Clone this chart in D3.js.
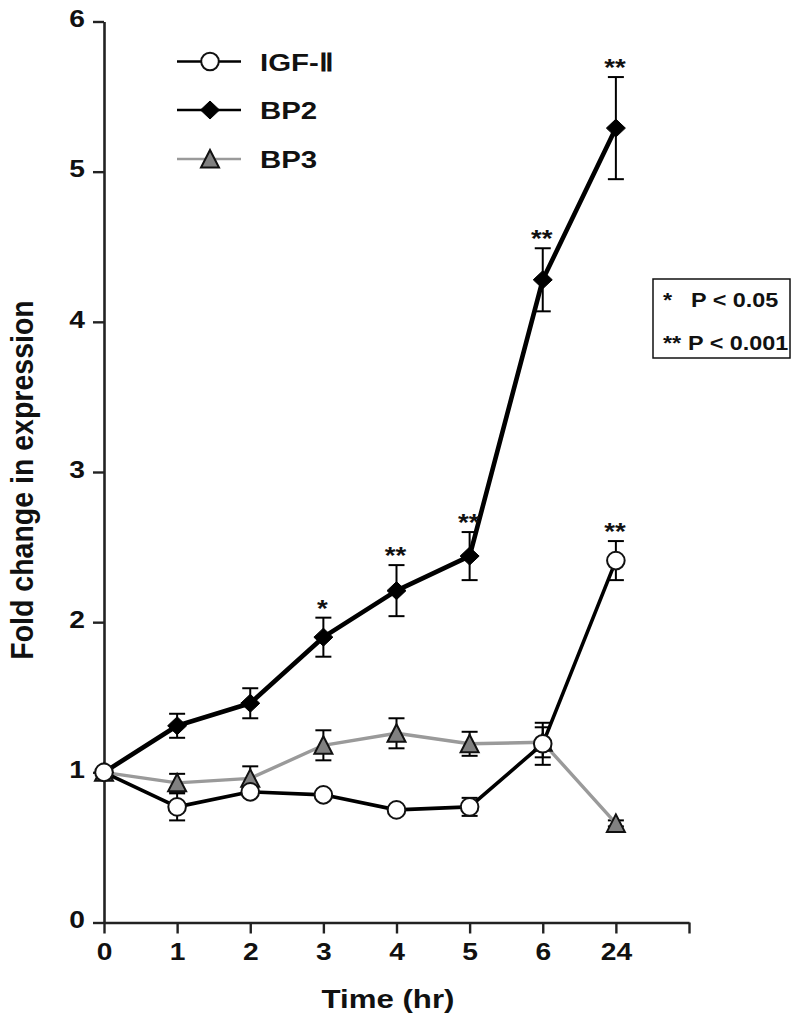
<!DOCTYPE html>
<html>
<head>
<meta charset="utf-8">
<script src="https://cdn.jsdelivr.net/npm/d3@7/dist/d3.min.js"></script>
<style>
  html, body { margin: 0; padding: 0; background: #fff; }
  svg { display: block; }
</style>
</head>
<body>
<svg id="chart" width="800" height="1024"></svg>
<script>
// ---------------- data ----------------
const times = ["0", "1", "2", "3", "4", "5", "6", "24"];
const yTicks = [0, 1, 2, 3, 4, 5, 6];

const igf    = [1.00, 0.77, 0.87, 0.85, 0.75, 0.77, 1.19, 2.41];
const igfErr = [0.00, 0.09, 0.02, 0.02, 0.02, 0.06, 0.14, 0.13];
const igfSig = ["", "", "", "", "", "", "", "**"];

const bp2    = [1.00, 1.31, 1.46, 1.90, 2.21, 2.44, 4.28, 5.29];
const bp2Err = [0.00, 0.08, 0.10, 0.13, 0.17, 0.16, 0.21, 0.34];
const bp2Sig = ["", "", "", "*", "**", "**", "**", "**"];

const bp3    = [1.00, 0.93, 0.96, 1.18, 1.26, 1.19, 1.20, 0.66];
const bp3Err = [0.00, 0.06, 0.08, 0.10, 0.10, 0.08, 0.10, 0.02];

const legendLabels = ["IGF-Ⅱ", "BP2", "BP3"];
const pLabels = [["*", "P < 0.05"], ["**", "P < 0.001"]];
const yTitle = "Fold change in expression";
const xTitle = "Time (hr)";

// ---------------- setup ----------------
const FONT = "'Liberation Sans', Arial, Helvetica, sans-serif";
const SX = 1.2; // horizontal stretch of text in the reference
const svg = d3.select("#chart");

const x = d3.scaleLinear().domain([0, 8]).range([104, 689]);
const y = d3.scaleLinear().domain([0, 6]).range([922.5, 21.5]);

function sText(g, px, py, str, size, anchor) {
  return g.append("text")
    .attr("transform", `translate(${px},${py}) scale(${SX},1)`)
    .attr("text-anchor", anchor || "start")
    .attr("font-family", FONT)
    .attr("font-weight", "bold")
    .attr("font-size", size)
    .attr("fill", "#111")
    .text(str);
}

// ---------------- axes ----------------
const yAxisG = svg.append("g")
  .attr("transform", `translate(${x(0)},0)`)
  .call(d3.axisLeft(y).tickValues(yTicks).tickSize(11).tickPadding(8).tickSizeOuter(0).tickFormat(d3.format("d")));

const xAxisG = svg.append("g")
  .attr("transform", `translate(0,${y(0)})`)
  .call(d3.axisBottom(x).tickValues(d3.range(9)).tickSize(11).tickPadding(10).tickSizeOuter(0)
    .tickFormat(i => times[i] !== undefined ? times[i] : ""));

[yAxisG, xAxisG].forEach(g => {
  g.select(".domain").attr("stroke", "#222").attr("stroke-width", 2.6);
  g.selectAll(".tick line").attr("stroke", "#222").attr("stroke-width", 2.4);
  g.selectAll(".tick text")
    .attr("font-family", FONT).attr("font-weight", "bold").attr("font-size", 23.5).attr("fill", "#111");
});
yAxisG.selectAll(".tick text")
  .attr("x", -19 / SX).attr("dy", "0.22em")
  .attr("transform", `scale(${SX},1)`);
xAxisG.selectAll(".tick text")
  .attr("transform", `scale(${SX},1)`);

// axis titles
svg.append("text")
  .attr("transform", `translate(33,480) rotate(-90) scale(1,1.12)`)
  .attr("text-anchor", "middle")
  .attr("font-family", FONT).attr("font-weight", "bold").attr("font-size", 28.5)
  .attr("fill", "#111")
  .text(yTitle);

sText(svg, 388, 1008, xTitle, 26, "middle");

// ---------------- marker shapes ----------------
function drawMarker(g, type, cx, cy) {
  if (type === "circle") {
    g.append("circle").attr("cx", cx).attr("cy", cy).attr("r", 8.8)
      .attr("fill", "#fff").attr("stroke", "#111").attr("stroke-width", 2);
  } else if (type === "diamond") {
    g.append("path")
      .attr("d", `M${cx},${cy - 9} L${cx + 9.5},${cy} L${cx},${cy + 9} L${cx - 9.5},${cy} Z`)
      .attr("fill", "#000").attr("stroke", "#000").attr("stroke-width", 1);
  } else {
    g.append("path")
      .attr("d", `M${cx},${cy - 9} L${cx + 9},${cy + 8.5} L${cx - 9},${cy + 8.5} Z`)
      .attr("fill", "#808080").attr("stroke", "#111").attr("stroke-width", 2).attr("stroke-linejoin", "miter");
  }
}

const series = [
  { vals: bp3, err: bp3Err, sig: null,   color: "#9a9a9a", width: 3.4, marker: "triangle" },
  { vals: bp2, err: bp2Err, sig: bp2Sig, color: "#000",    width: 4.6, marker: "diamond" },
  { vals: igf, err: igfErr, sig: igfSig, color: "#000",    width: 3.6, marker: "circle" }
];

const line = d3.line().x((d, i) => x(i)).y(d => y(d));

series.forEach(s => {
  const g = svg.append("g");
  // error bars
  s.vals.forEach((v, i) => {
    if (!s.err[i]) return;
    const t = y(v + s.err[i]), b = y(v - s.err[i]);
    g.append("line").attr("x1", x(i)).attr("x2", x(i)).attr("y1", t).attr("y2", b)
      .attr("stroke", "#000").attr("stroke-width", 2);
    [t, b].forEach(cy => g.append("line")
      .attr("x1", x(i) - 8).attr("x2", x(i) + 8).attr("y1", cy).attr("y2", cy)
      .attr("stroke", "#000").attr("stroke-width", 2));
  });
  // line
  g.append("path").datum(s.vals).attr("d", line)
    .attr("fill", "none").attr("stroke", s.color).attr("stroke-width", s.width)
    .attr("stroke-linejoin", "round");
  // markers
  s.vals.forEach((v, i) => drawMarker(g, s.marker, x(i), y(v)));
  // significance
  if (s.sig) {
    s.vals.forEach((v, i) => {
      if (!s.sig[i]) return;
      sText(g, x(i) - 1, y(v + s.err[i]) - 1, s.sig[i], 23, "middle");
    });
  }
});

// ---------------- legend ----------------
const legend = svg.append("g");
const legendRows = [
  { label: legendLabels[0], color: "#000",    marker: "circle",   ly: 61.5 },
  { label: legendLabels[1], color: "#000",    marker: "diamond",  ly: 110 },
  { label: legendLabels[2], color: "#9a9a9a", marker: "triangle", ly: 159 }
];
legendRows.forEach(r => {
  legend.append("line").attr("x1", 177).attr("x2", 241).attr("y1", r.ly).attr("y2", r.ly)
    .attr("stroke", r.color).attr("stroke-width", 2.6);
  drawMarker(legend, r.marker, 210, r.ly);
  sText(legend, 260, r.ly + 9, r.label, 24.5, "start");
});

// ---------------- p-value box ----------------
const pbox = svg.append("g");
pbox.append("rect").attr("x", 653).attr("y", 279).attr("width", 137).attr("height", 79)
  .attr("fill", "#fff").attr("stroke", "#111").attr("stroke-width", 1.5);
sText(pbox, 663, 307, pLabels[0][0], 19.5, "start");
sText(pbox, 691, 307, pLabels[0][1], 19.5, "start");
sText(pbox, 663, 350, pLabels[1][0], 19.5, "start");
sText(pbox, 688, 350, pLabels[1][1], 19.5, "start");
</script>
</body>
</html>
